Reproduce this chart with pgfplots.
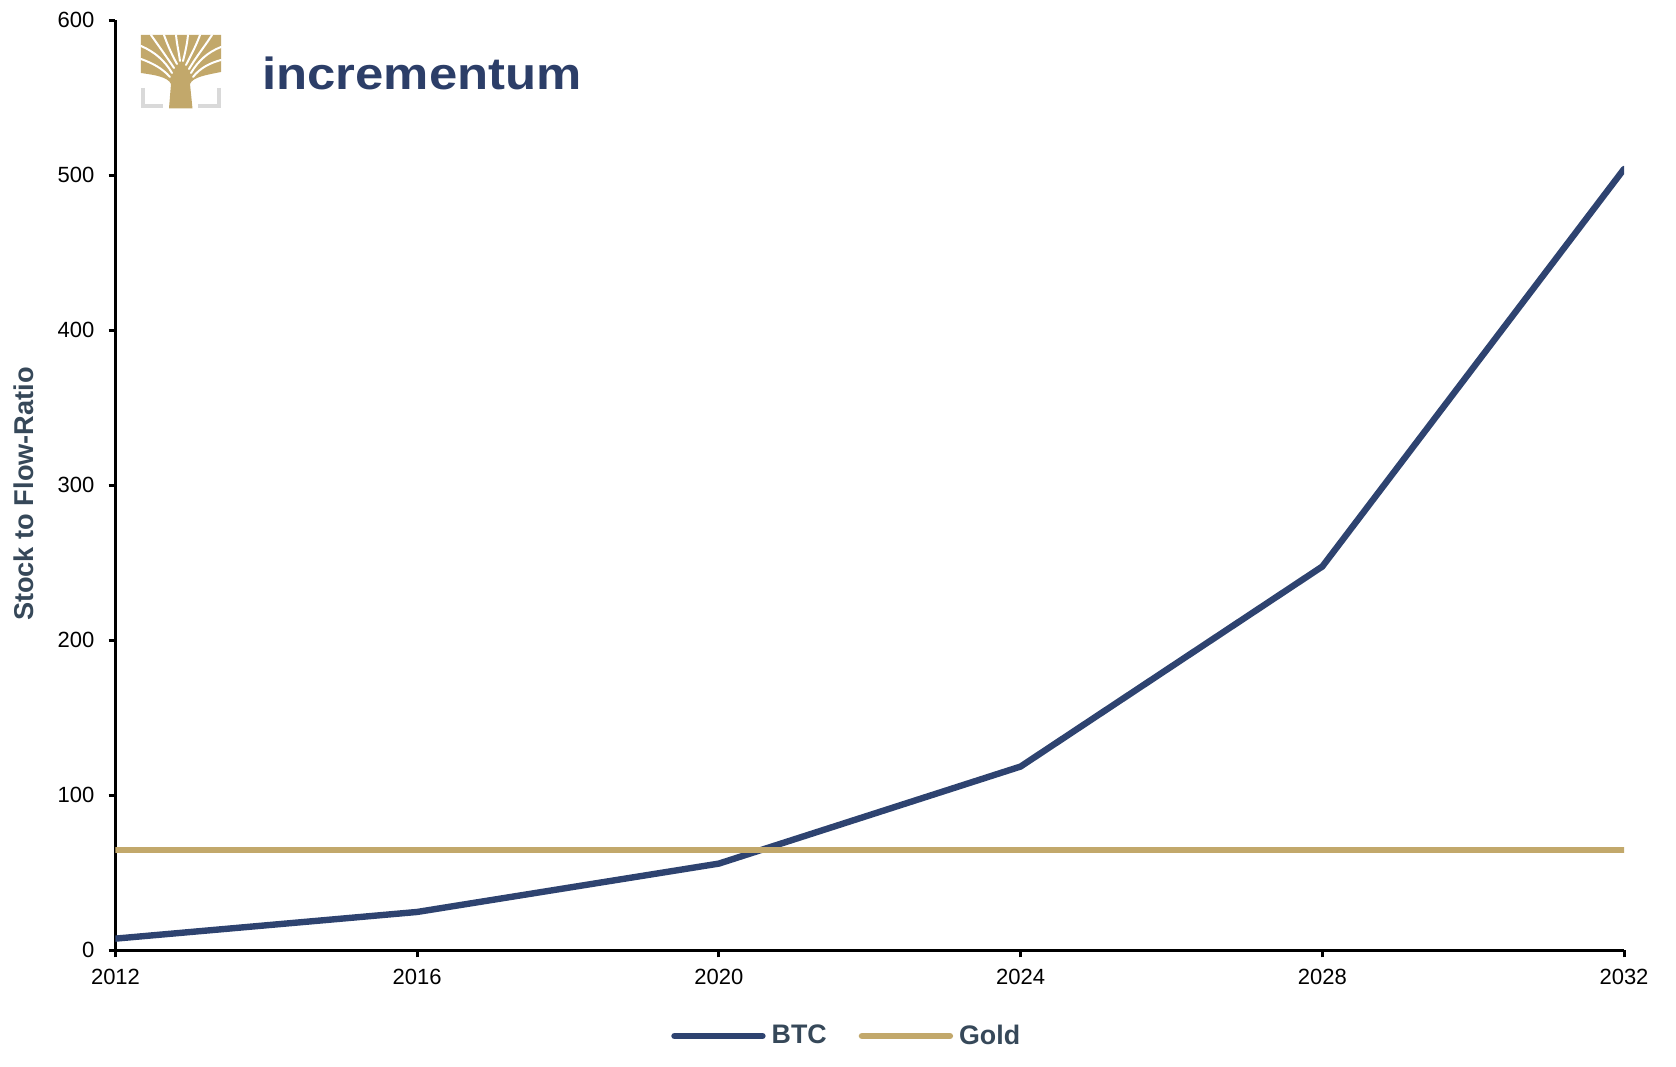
\documentclass[border=0pt]{standalone}
\usepackage{fontspec}
\setmainfont{Liberation Sans}
\newfontfamily\logofont{Liberation Sans}[FakeStretch=1.13]
\usepackage{pgfplots}
\pgfplotsset{compat=1.18}
\definecolor{btc}{HTML}{2E4370}
\definecolor{gold}{HTML}{C2A86B}
\definecolor{labcol}{HTML}{364859}
\definecolor{logotext}{HTML}{2C3E68}
\definecolor{logogray}{HTML}{D9D9D9}
\begin{document}
\begin{tikzpicture}
\useasboundingbox (-57.75pt,-57.8pt) rectangle (780.25pt,475.2pt);
\begin{axis}[
  at={(0,0)}, anchor=south west,
  scale only axis, width=754.25pt, height=465.1pt,
  xmin=2012, xmax=2032, ymin=0, ymax=600,
  xtick={2012,2016,2020,2024,2028,2032},
  ytick={0,100,200,300,400,500,600},
  axis x line*=bottom, axis y line*=left,
  axis line style={line width=1.5pt, black},
  tick align=outside, major tick length=3.5pt,
  tick style={line width=1.5pt, black},
  /pgf/number format/1000 sep={},
  /pgf/number format/assume math mode=true,
  ticklabel style={font=\fontsize{11}{13}\selectfont, black},
  xticklabel style={yshift=-2.5pt},
  yticklabel style={xshift=-3.5pt},
  ylabel={Stock to Flow-Ratio},
  ylabel style={at={(axis description cs:-0.0607,0.4906)}, anchor=center,
    font=\bfseries\fontsize{13.6}{16}\selectfont, color=labcol},
  legend columns=2,
  legend style={at={(axis description cs:0.4854,0)}, anchor=center, yshift=-42.8pt,
    draw=none, fill=none, font=\bfseries\fontsize{13.4}{16}\selectfont, text=labcol,
    /tikz/every even column/.append style={column sep=14pt},
    /tikz/every odd column/.append style={column sep=1pt}},
  legend image code/.code={\draw[#1, line cap=round] (0pt,0pt) -- (44pt,0pt);},
]
\addplot[btc, line width=3.2pt, line cap=round, line join=round] coordinates {
  (2012,7.6) (2016,24.8) (2020,56) (2024,118.6) (2028,247.6) (2032,504)};
\addlegendentry{BTC}
\addplot[gold, line width=3.2pt, line cap=round] coordinates {
  (2012,64.8) (2032,64.8)};
\addlegendentry{Gold}
\end{axis}
% logo (pixel coordinates of the reference)
\begin{scope}[shift={(-57.75pt,475.2pt)}, x=0.5pt, y=-0.5pt]
  \draw[logogray, line width=2.2pt] (143,88) -- (143,106) -- (163,106);
  \draw[logogray, line width=2.2pt] (219,88) -- (219,106) -- (198,106);
  \fill[gold] (141,35) -- (221,35) -- (221,72) .. controls (206,75) and (193,77) .. (190,84)
     -- (192.5,108.5) -- (169,108.5) -- (171,84) .. controls (168,77) and (155,75) .. (141,73) -- cycle;
  \begin{scope}[white, line width=1pt, line cap=round]
    \draw (141,46) .. controls (155,52) and (165,61) .. (172,73);
    \draw (141,59) .. controls (152,63) and (162,68) .. (170,77);
    \draw (151,35) .. controls (158,45) and (166,56) .. (174,68);
    \draw (164,35) .. controls (168,46) and (172,55) .. (177,64);
    \draw (176,35) .. controls (177,45) and (179,53) .. (180,61);
    \draw (188,35) .. controls (187,45) and (185,53) .. (183,61);
    \draw (200,35) .. controls (196,46) and (191,55) .. (186,65);
    \draw (212,35) .. controls (205,46) and (196,57) .. (189,69);
    \draw (221,47) .. controls (208,52) and (198,61) .. (191,73);
    \draw (221,60) .. controls (210,63) and (200,68) .. (193,77);
  \end{scope}
  \node[anchor=base west, inner sep=0pt, text=logotext,
        font=\logofont\bfseries\fontsize{22.5}{26}\selectfont] at (262,89.3) {incrementum};
\end{scope}
\end{tikzpicture}
\end{document}
